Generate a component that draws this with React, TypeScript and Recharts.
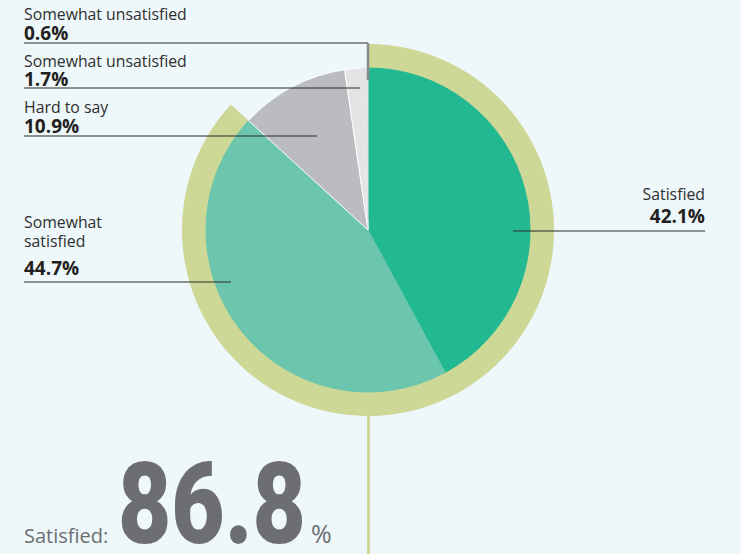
import { PieChart, Pie, Cell } from 'recharts';

// survey answers, clockwise from 12 o'clock
const categories = ['Satisfied', 'Somewhat satisfied', 'Hard to say', 'Somewhat unsatisfied', 'Somewhat unsatisfied'];
const shares = [42.1, 44.7, 10.9, 1.7, 0.6];
const sliceColors = ['#22b892', '#6bc6ad', '#bbbcc0', '#e3e4e6', '#e3e4e6'];
const sliceStrokes = ['#22b892', '#6bc6ad', '#ffffff', '#ffffff', '#e3e4e6'];

// outer ring: total satisfied vs. the rest
const ringShares = [86.8, 13.2];
const totalSatisfied = '86.8';

const RING = '#cdd796';
const BG = '#eef7f9';
const FONT = '"Open Sans", "Noto Sans", sans-serif';

const pieData = categories.map((name, i) => ({ name, value: shares[i] }));
const ringData = ringShares.map((value, i) => ({ name: i === 0 ? 'satisfied' : 'rest', value }));

// label layout, offsets relative to the pie centre
const labelLayout = [
  { lines: ['Satisfied'], anchor: 'end', tx: 337, ty: [-30, -7], ly: 1, x1: 145, x2: 337 },
  { lines: ['Somewhat', 'satisfied'], anchor: 'start', tx: -344, ty: [-2, 17, 45], ly: 52, x1: -344, x2: -137 },
  { lines: ['Hard to say'], anchor: 'start', tx: -344, ty: [-117, -97], ly: -94, x1: -344, x2: -51 },
  { lines: ['Somewhat unsatisfied'], anchor: 'start', tx: -344, ty: [-163, -144], ly: -142, x1: -344, x2: -8 },
  { lines: ['Somewhat unsatisfied'], anchor: 'start', tx: -344, ty: [-210, -190], ly: -187, x1: -344, x2: 0, drop: -150 },
];

function renderLabel(props: any) {
  const { cx, cy, index, value } = props;
  const l = labelLayout[index];
  const n = l.lines.length;
  return (
    <g key={`lbl-${index}`}>
      <line x1={cx + l.x1} x2={cx + l.x2} y1={cy + l.ly} y2={cy + l.ly} stroke="#2b2b2b" strokeWidth={1.2} />
      {l.drop !== undefined && (
        <line x1={cx + l.x2} x2={cx + l.x2} y1={cy + l.ly} y2={cy + l.drop} stroke="#8a8a8a" strokeWidth={2.5} />
      )}
      {l.lines.map((t: string, i: number) => (
        <text key={i} x={cx + l.tx} y={cy + l.ty[i]} textAnchor={l.anchor} fontFamily={FONT} fontSize={15.8} fill="#2e2e2e">
          {t}
        </text>
      ))}
      <text x={cx + l.tx} y={cy + l.ty[n]} textAnchor={l.anchor} fontFamily={FONT} fontSize={19} fontWeight={700} fill="#231f20">
        {`${value.toFixed(1)}%`}
      </text>
    </g>
  );
}

export default function App() {
  return (
    <div style={{ position: 'absolute', left: 0, top: 0, width: 741, height: 554, background: BG, overflow: 'hidden' }}>
      <PieChart width={741} height={554} margin={{ top: 0, right: 0, bottom: 0, left: 0 }}>
        <Pie
          data={ringData}
          dataKey="value"
          cx={368}
          cy={230}
          outerRadius={186}
          startAngle={90}
          endAngle={-270}
          stroke="none"
          isAnimationActive={false}
        >
          <Cell fill={RING} />
          <Cell fill="transparent" />
        </Pie>
        <Pie
          data={pieData}
          dataKey="value"
          cx={368}
          cy={230}
          outerRadius={162}
          startAngle={90}
          endAngle={-270}
          strokeWidth={1}
          label={renderLabel}
          labelLine={false}
          isAnimationActive={false}
        >
          {pieData.map((d, i) => (
            <Cell key={d.name + i} fill={sliceColors[i]} stroke={sliceStrokes[i]} />
          ))}
        </Pie>
      </PieChart>
      <div style={{ position: 'absolute', left: 367, top: 415, width: 2.5, height: 139, background: RING }} />
      <svg width={741} height={554} style={{ position: 'absolute', left: 0, top: 0, pointerEvents: 'none' }}>
        <text x={24} y={543} fontFamily={FONT} fontSize={20} fill="#6d6e71">Satisfied:</text>
        <text x={118} y={543} fontFamily="Roboto, sans-serif" fontSize={114} fontWeight={900} fill="#6d6e71" textLength={188} lengthAdjust="spacingAndGlyphs">
          {totalSatisfied}
        </text>
        <text x={311} y={543} fontFamily={FONT} fontSize={25} fill="#6d6e71">%</text>
      </svg>
    </div>
  );
}
